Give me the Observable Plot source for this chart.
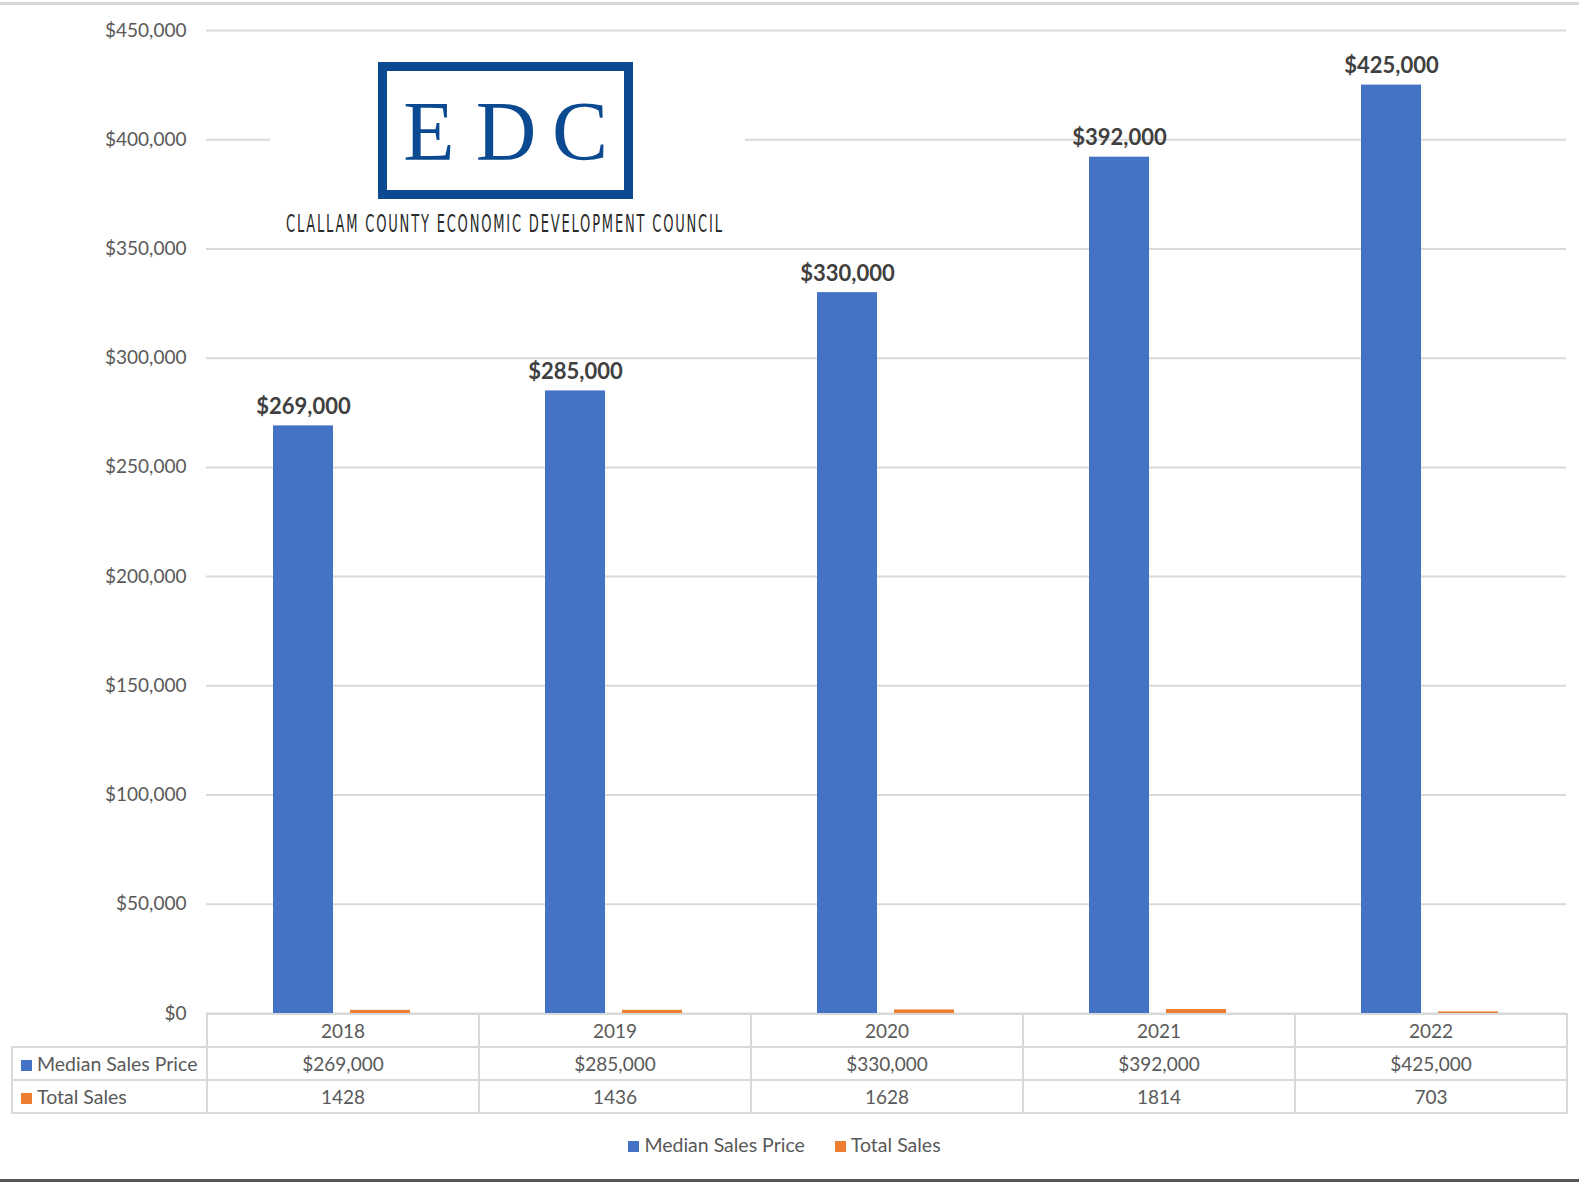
<!DOCTYPE html>
<html>
<head>
<meta charset="utf-8">
<script src="https://cdn.jsdelivr.net/npm/d3@7"></script>
<script src="https://cdn.jsdelivr.net/npm/@observablehq/plot@0.6"></script>
<style>
  html, body { margin: 0; padding: 0; background: #fff; overflow: hidden; }
  #wrap { position: relative; width: 1579px; height: 1191px; overflow: hidden; font-family: Lato, "Open Sans", sans-serif; color: #595959; transform-origin: 0 0; }
  #chart { position: absolute; left: 0; top: 0; width: 1579px; height: 1014px; }
  #chart svg { display: block; overflow: visible; }
  #topline { position: absolute; left: 0; top: 2px; width: 1579px; height: 3px; background: #d6d6d6; }
  #bottomline { position: absolute; left: 0; top: 1179px; width: 1579px; height: 3px; background: #555; }
  #logo { position: absolute; left: 270px; top: 40px; width: 475px; height: 207px; }
  #logo svg { display: block; }
  #tablebox { position: absolute; left: 11px; top: 1013px; }
  table.dt { border-collapse: collapse; table-layout: fixed; font-size: 19px; color: #595959; }
  table.dt tr { height: 33px; }
  table.dt td { border: 2px solid #d9d9d9; padding: 0; text-align: center; white-space: nowrap; }
  table.dt td.corner { border-top: none; border-left: none; border-bottom: 2px solid #d9d9d9; }
  table.dt td.lab { text-align: left; padding-left: 8px; font-size: 19.5px; }
  .sw { display: inline-block; width: 11px; height: 11px; margin-right: 5px; vertical-align: 0px; }
  #legend { position: absolute; top: 1133px; left: 0; width: 1579px; display: flex; justify-content: center; font-size: 19.5px; color: #595959; }
  #legend span.item { margin: 0 15px; }
  #legend .inner { display: flex; margin-left: -10px; }
</style>
</head>
<body>
<div id="wrap">
  <div id="topline"></div>
  <div id="chart"></div>
  <div id="logo"></div>
  <div id="tablebox"></div>
  <div id="legend"></div>
  <div id="bottomline"></div>
</div>
<script>
// ---- Data ----
const years = ["2018", "2019", "2020", "2021", "2022"];
const medianPrice = [269000, 285000, 330000, 392000, 425000];
const totalSales = [1428, 1436, 1628, 1814, 703];
const seriesNames = ["Median Sales Price", "Total Sales"];
const seriesColors = ["#4472C4", "#ED7D31"];
const yTicks = [0, 50000, 100000, 150000, 200000, 250000, 300000, 350000, 400000, 450000];
const logoLetters = ["E", "D", "C"];
const logoSubtitle = "CLALLAM COUNTY ECONOMIC DEVELOPMENT COUNCIL";

const money = d => "$" + d3.format(",")(d);

// fit the 1579x1191 layout to the actual viewport
const wrapEl = document.getElementById("wrap");
const fit = Math.min(window.innerWidth / 1579, window.innerHeight / 1191);
if (isFinite(fit) && fit > 0 && Math.abs(fit - 1) > 0.001) wrapEl.style.transform = `scale(${fit})`;

const rows = years.flatMap((yr, i) => [
  {year: yr, series: seriesNames[0], value: medianPrice[i]},
  {year: yr, series: seriesNames[1], value: totalSales[i]}
]);

const chart = Plot.plot({
  width: 1579,
  height: 1014,
  marginLeft: 206,
  marginRight: 13,
  marginTop: 30,
  marginBottom: 1,
  style: {fontFamily: "Lato, 'Open Sans', sans-serif", fontSize: "19px", color: "#595959", background: "transparent", overflow: "visible"},
  fx: {domain: years, padding: 0, axis: null, label: null},
  x: {domain: seriesNames, paddingInner: 0.218, paddingOuter: 0.859, axis: null, label: null},
  y: {domain: [0, 450000], ticks: yTicks, tickFormat: money, tickSize: 0, tickPadding: 20, label: null},
  color: {domain: seriesNames, range: seriesColors},
  marks: [
    Plot.ruleY(yTicks, {stroke: "#d9d9d9", strokeWidth: 2, strokeOpacity: 1}),
    Plot.barY(rows, {fx: "year", x: "series", y: "value", fill: "series"}),
    Plot.text(rows.filter(d => d.series === seriesNames[0]), {
      fx: "year", x: "series", y: "value", text: d => money(d.value),
      lineAnchor: "bottom", dy: -12, fontWeight: "bold", fontSize: 22, fill: "#404040"
    })
  ]
});
document.getElementById("chart").appendChild(chart);

// ---- Logo (overlay of the original's logo image) ----
const logo = d3.select("#logo").append("svg").attr("width", 475).attr("height", 207);
logo.append("rect").attr("x", 0).attr("y", 0).attr("width", 475).attr("height", 207).attr("fill", "#fff");
logo.append("rect").attr("x", 112.5).attr("y", 26.5).attr("width", 246).attr("height", 128)
  .attr("fill", "none").attr("stroke", "#0b4a90").attr("stroke-width", 9);
const letterX = [159, 236, 310];
logoLetters.forEach((l, i) => {
  logo.append("text").attr("x", letterX[i]).attr("y", 120).attr("text-anchor", "middle")
    .attr("font-family", "'Liberation Serif', 'DejaVu Serif', serif").attr("font-size", 84)
    .attr("fill", "#0b4a90").text(l);
});
const sub = logo.append("text").attr("x", 0).attr("y", 0)
  .attr("font-family", "'DejaVu Sans Condensed', 'Liberation Sans Narrow', 'DejaVu Sans', sans-serif")
  .attr("font-size", 24).attr("fill", "#2a2a2a").attr("letter-spacing", 3)
  .text(logoSubtitle);
const natural = sub.node().getComputedTextLength();
const sx = 438 / natural;
sub.attr("transform", `translate(16,192) scale(${sx},1)`);

// ---- Data table ----
const tbl = d3.select("#tablebox").append("table").attr("class", "dt");
const cg = tbl.append("colgroup");
cg.append("col").style("width", "195px");
years.forEach(() => cg.append("col").style("width", "272px"));
const hr = tbl.append("tr");
hr.append("td").attr("class", "corner");
years.forEach(y => hr.append("td").text(y));
const tableRows = [
  {name: seriesNames[0], color: seriesColors[0], vals: medianPrice.map(money)},
  {name: seriesNames[1], color: seriesColors[1], vals: totalSales.map(String)}
];
tableRows.forEach(r => {
  const tr = tbl.append("tr");
  const lab = tr.append("td").attr("class", "lab");
  lab.append("span").attr("class", "sw").style("background", r.color);
  lab.append("span").text(r.name);
  r.vals.forEach(v => tr.append("td").text(v));
});

// ---- Legend ----
const lg = d3.select("#legend").append("div").attr("class", "inner");
seriesNames.forEach((s, i) => {
  const it = lg.append("span").attr("class", "item");
  it.append("span").attr("class", "sw").style("background", seriesColors[i]);
  it.append("span").text(s);
});
</script>
</body>
</html>
